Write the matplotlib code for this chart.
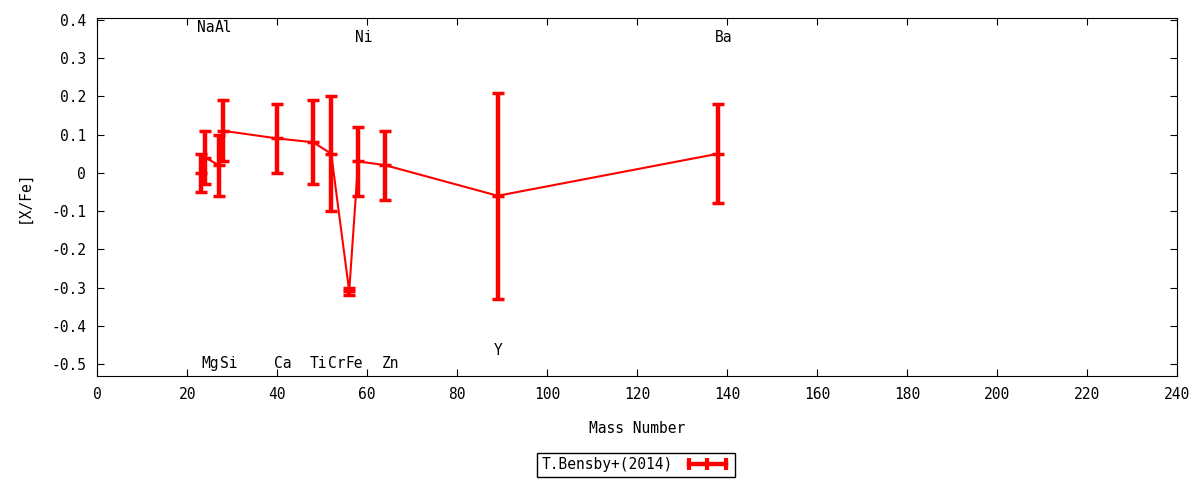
import matplotlib
matplotlib.use("Agg")
import matplotlib.pyplot as plt
from matplotlib.lines import Line2D
from matplotlib.ticker import FuncFormatter

# Bensby+(2014) abundance pattern
elements = ["Na", "Mg", "Al", "Si", "Ca", "Ti", "Cr", "Fe", "Ni", "Zn", "Y", "Ba"]
mass = [23, 24, 27, 28, 40, 48, 52, 56, 58, 64, 89, 138]
xfe = [0.00, 0.04, 0.02, 0.11, 0.09, 0.08, 0.05, -0.31, 0.03, 0.02, -0.06, 0.05]
err = [0.05, 0.07, 0.08, 0.08, 0.09, 0.11, 0.15, 0.01, 0.09, 0.09, 0.27, 0.13]
label_y = [0.38, -0.50, 0.38, -0.50, -0.50, -0.50, -0.50, -0.50, 0.355, -0.50, -0.465, 0.355]

plt.rcParams['font.family'] = ['DejaVu Sans Mono', 'DejaVu Sans']
plt.rcParams['font.size'] = 10.5

fig = plt.figure(figsize=(12, 4.8), dpi=100)
ax = fig.add_axes([0.081, 0.217, 0.9, 0.7455])

ax.errorbar(mass, xfe, yerr=err, color='red', lw=1.5, elinewidth=3.2,
            capsize=4, capthick=3, marker='_', ms=9, mew=2.5)

for el, m, ly in zip(elements, mass, label_y):
    ax.text(m - 0.8, ly, el, ha='left', va='center')

ax.set_xlim(0, 240)
ax.set_ylim(-0.531, 0.405)
ax.set_xticks(range(0, 241, 20))
ax.set_yticks([-0.5, -0.4, -0.3, -0.2, -0.1, 0, 0.1, 0.2, 0.3, 0.4])
ax.yaxis.set_major_formatter(FuncFormatter(lambda v, p: "%g" % round(v, 2)))
ax.tick_params(direction='in', top=True, right=True, length=5, pad=8)
ax.set_xlabel("Mass Number", labelpad=14)
ax.set_ylabel("[X/Fe]", labelpad=14)

# gnuplot-style key sample: horizontal bar with end and middle ticks
proxy = Line2D([], [], color='red', lw=3.2, marker='|', ms=8, mew=3)
leg = fig.legend([proxy], ["T.Bensby+(2014)"], loc='center',
                 bbox_to_anchor=(0.53, 0.032), markerfirst=False, numpoints=3,
                 fancybox=False, edgecolor='black', framealpha=1,
                 handlelength=3.2, borderpad=0.3)
leg.get_frame().set_linewidth(1)

fig.savefig("out.png", dpi=100)
